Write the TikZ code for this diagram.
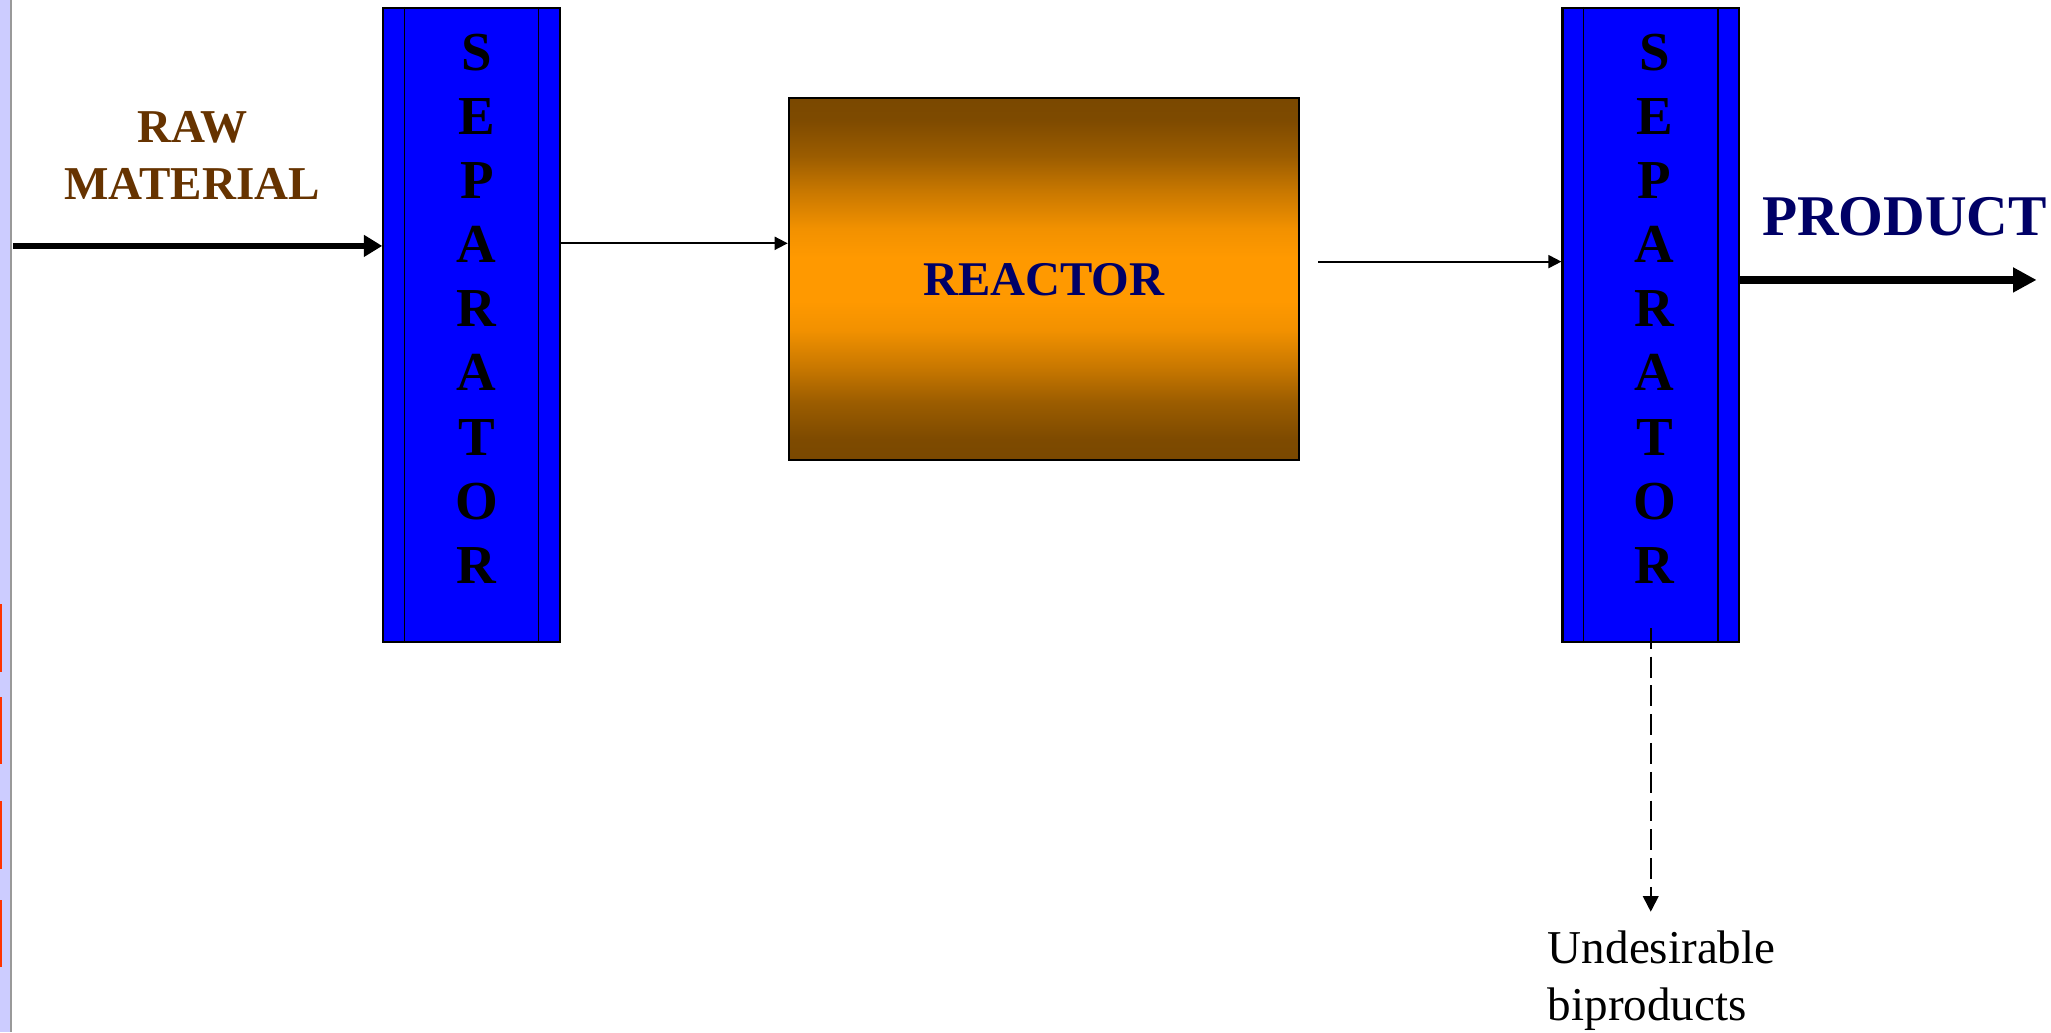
\documentclass[tikz,border=0pt]{standalone}
\usepackage{fontspec}
\setmainfont{Liberation Serif}
\usetikzlibrary{calc,arrows.meta}

\definecolor{sepblue}{HTML}{0000FF}
\definecolor{rawbrown}{HTML}{663300}
\definecolor{navytext}{HTML}{000066}
\definecolor{reactdark}{HTML}{7A4800}
\definecolor{reactorange}{HTML}{FF9900}
\definecolor{slidestrip}{HTML}{CCCCFF}
\definecolor{slidered}{HTML}{FF3300}

% dark bands at top and bottom, orange in the middle
\pgfdeclareverticalshading{reactorfill}{100bp}{color(0bp)=(reactdark); color(25bp)=(reactdark); color(28bp)=(reactdark!97!reactorange); color(33bp)=(reactdark!75!reactorange); color(38bp)=(reactdark!40!reactorange); color(43bp)=(reactdark!10!reactorange); color(47bp)=(reactorange); color(53bp)=(reactorange); color(57bp)=(reactdark!10!reactorange); color(62bp)=(reactdark!40!reactorange); color(67bp)=(reactdark!75!reactorange); color(72bp)=(reactdark!97!reactorange); color(75bp)=(reactdark); color(100bp)=(reactdark)}

\tikzset{
  separator/.style={draw, line width=0.8pt, fill=sepblue, minimum width=67.5pt, minimum height=242.5pt, inner sep=0pt},
  sepletters/.style={font=\fontsize{21}{24.5}\selectfont\bfseries, align=center, inner sep=0pt},
  thickflow/.style={line width=2.2pt, -{Triangle[length=7pt,width=8pt]}},
  thinflow/.style={line width=0.7pt, -{Triangle[length=5pt,width=5pt]}},
}

\begin{document}
\begin{tikzpicture}[x=0.5pt, y=-0.5pt]
        \useasboundingbox (0,0) rectangle (1568,789);

        % Slide edge on the left with its red marks
        \fill[slidestrip] (0,0) rectangle (7.5,789);
        \draw[gray!80, line width=0.6pt] (8.5,0) -- (8.5,789);
        \fill[slidered] (0,462) rectangle (1.5,514);
        \fill[slidered] (0,533) rectangle (1.5,584);
        \fill[slidered] (0,612) rectangle (1.5,664);
        \fill[slidered] (0,688) rectangle (1.5,739);

        % First separator column
        \node[separator] (sep1) at (360.5,248.5) {};
        \draw[line width=0.6pt] ([xshift=8.5pt]sep1.north west) -- ([xshift=8.5pt]sep1.south west);
        \draw[line width=0.6pt] ([xshift=-8.5pt]sep1.north east) -- ([xshift=-8.5pt]sep1.south east);
        \node[sepletters] (sep1txt) at ([xshift=2pt,yshift=6.25pt]sep1.center) {S\\E\\P\\A\\R\\A\\T\\O\\R};

        % Second separator column
        \node[separator] (sep2) at (1262,248.5) {};
        \draw[line width=0.6pt] ([xshift=8.5pt]sep2.north west) -- ([xshift=8.5pt]sep2.south west);
        \draw[line width=0.6pt] ([xshift=-8.5pt]sep2.north east) -- ([xshift=-8.5pt]sep2.south east);
        \node[sepletters] (sep2txt) at ([xshift=1.5pt,yshift=6.25pt]sep2.center) {S\\E\\P\\A\\R\\A\\T\\O\\R};

        % The reactor with its shaded body
        \node[draw, line width=0.8pt, shading=reactorfill,
              minimum width=195pt, minimum height=138.5pt, text=navytext,
              font=\fontsize{18.5}{22}\selectfont\bfseries] (reactor) at (798,213.5) {REACTOR};

        % Labels of the streams
        \node[text=rawbrown, align=center, inner sep=0pt, font=\fontsize{18}{22}\selectfont\bfseries] (raw) at (147,119) {RAW\\MATERIAL};
        \node[text=navytext, inner sep=0pt, font=\fontsize{22}{26}\selectfont\bfseries] (product) at (1456,166) {PRODUCT};
        \node[anchor=north west, align=left, inner sep=0pt, font=\fontsize{18}{22}\selectfont] (waste) at (1183,711) {Undesirable\\biproducts};

        % Feed into the first separator
        \coordinate (rawin) at (10,188);
        \draw[thickflow] (rawin) -- (rawin -| sep1.west);

        % Separator to reactor
        \coordinate (s1out) at ([yshift=31.25pt]sep1.east);
        \draw[thinflow] (s1out) -- (s1out -| reactor.west);

        % Reactor to second separator
        \coordinate (rout) at ([xshift=7pt,yshift=6.75pt]reactor.east);
        \draw[thinflow] (rout) -- (rout -| sep2.west);

        % Product leaving
        \coordinate (prodout) at (1557,214);
        \draw[line width=2.8pt, -{Triangle[length=9pt,width=9pt]}] (prodout -| sep2.east) -- (prodout);

        % Biproducts going down
        \coordinate (bitop) at (1262,480);
        \coordinate (bibot) at (1262,697);
        \draw[line width=0.7pt, dash pattern=on 8pt off 3pt, -{Triangle[length=6pt,width=6pt]}] (bitop) -- (bibot);

\end{tikzpicture}
\end{document}
